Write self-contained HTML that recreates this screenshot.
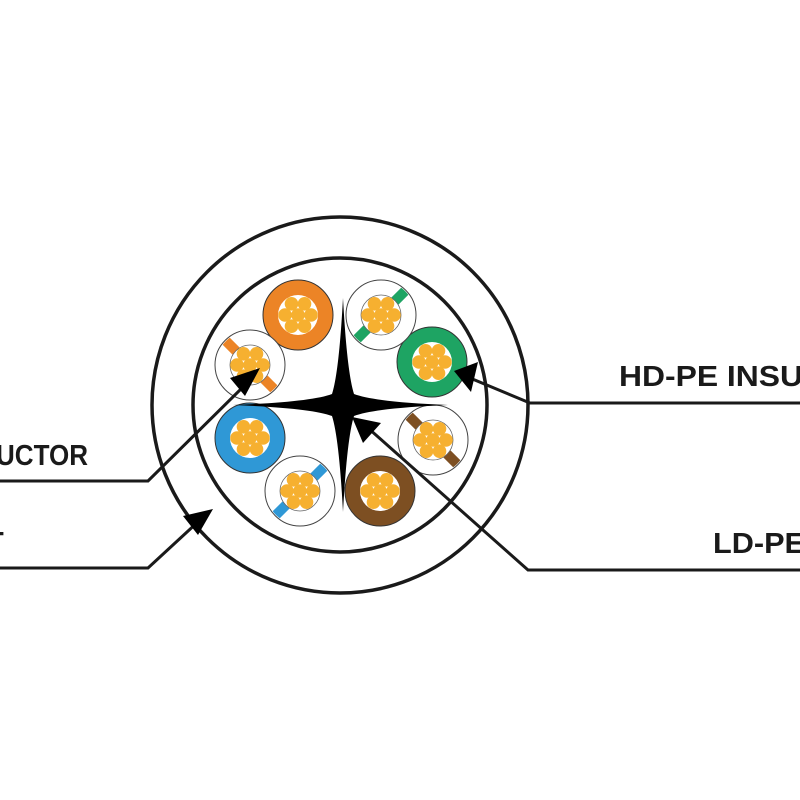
<!DOCTYPE html>
<html><head><style>html,body{margin:0;padding:0;background:#fff}svg{display:block}</style></head>
<body>
<svg width="800" height="800" viewBox="0 0 800 800" xmlns="http://www.w3.org/2000/svg">
<defs>
<g id="strands" fill="#f6b030">
<circle cx="0" cy="0" r="6.8"/><circle cx="13" cy="0" r="6.8"/><circle cx="-13" cy="0" r="6.8"/>
<circle cx="6.5" cy="11.2" r="6.8"/><circle cx="-6.5" cy="11.2" r="6.8"/>
<circle cx="6.5" cy="-11.2" r="6.8"/><circle cx="-6.5" cy="-11.2" r="6.8"/>
</g>
<clipPath id="c35"><circle cx="0" cy="0" r="34"/></clipPath>
</defs>
<g fill="none" stroke="#1a1a1a" stroke-width="3.5">
<circle cx="340" cy="405" r="188"/>
<circle cx="340" cy="405" r="147"/>
</g>
<g>
<g transform="translate(298,315)"><circle r="35" fill="#ec8426" stroke="#333" stroke-width="1"/><circle r="20" fill="#fff"/><use href="#strands"/></g>
<g transform="translate(432,362)"><circle r="35" fill="#1ea463" stroke="#333" stroke-width="1"/><circle r="20" fill="#fff"/><use href="#strands"/></g>
<g transform="translate(250,438)"><circle r="35" fill="#2f98d6" stroke="#333" stroke-width="1"/><circle r="20" fill="#fff"/><use href="#strands"/></g>
<g transform="translate(380,491)"><circle r="35" fill="#7d4f22" stroke="#333" stroke-width="1"/><circle r="20" fill="#fff"/><use href="#strands"/></g>
</g>
<g transform="translate(381,315)"><circle r="35" fill="#fff" stroke="#444" stroke-width="1"/><g clip-path="url(#c35)"><rect x="-50" y="-5" width="100" height="10" fill="#1ea463" transform="rotate(-45)"/></g><circle r="20" fill="#fff" stroke="#666" stroke-width="0.8"/><use href="#strands"/></g>
<g transform="translate(250,365)"><circle r="35" fill="#fff" stroke="#444" stroke-width="1"/><g clip-path="url(#c35)"><rect x="-50" y="-5" width="100" height="10" fill="#ec8426" transform="rotate(45)"/></g><circle r="20" fill="#fff" stroke="#666" stroke-width="0.8"/><use href="#strands"/></g>
<g transform="translate(433,440)"><circle r="35" fill="#fff" stroke="#444" stroke-width="1"/><g clip-path="url(#c35)"><rect x="-50" y="-5" width="100" height="10" fill="#7d4f22" transform="rotate(45)"/></g><circle r="20" fill="#fff" stroke="#666" stroke-width="0.8"/><use href="#strands"/></g>
<g transform="translate(300,491)"><circle r="35" fill="#fff" stroke="#444" stroke-width="1"/><g clip-path="url(#c35)"><rect x="-50" y="-5" width="100" height="10" fill="#2f98d6" transform="rotate(-45)"/></g><circle r="20" fill="#fff" stroke="#666" stroke-width="0.8"/><use href="#strands"/></g>
<path d="M343,298 Q347,372 354,394 Q375,402 448,405 Q375,408 354,416 Q347,438 343,512 Q339,438 332,416 Q311,408 233,405 Q311,402 332,394 Q339,372 343,298Z" fill="#000"/>
<g fill="none" stroke="#1a1a1a" stroke-width="3">
<polyline points="0,481 148,481 248,382"/>
<polyline points="0,568 148,568 200,520"/>
<polyline points="800,403 530,403 470,378"/>
<polyline points="800,570 528,570 368,428"/>
</g>
<g fill="#000">
<polygon points="260,368 230,378 245,396"/>
<polygon points="213,509 183,516 198,535"/>
<polygon points="454,371 478,362 471,392"/>
<polygon points="352,417 381,423 363,443"/>
</g>
<g font-family="Liberation Sans, sans-serif" font-weight="bold" font-size="29" fill="#1a1a1a">
<text x="-4" y="465" textLength="92" lengthAdjust="spacingAndGlyphs">UCTOR</text>
<text x="-14" y="552">T</text>
<text x="619" y="386" textLength="184" lengthAdjust="spacingAndGlyphs">HD-PE INSU</text>
<text x="713" y="553" textLength="92" lengthAdjust="spacingAndGlyphs">LD-PE</text>
</g>
</svg>
</body></html>
